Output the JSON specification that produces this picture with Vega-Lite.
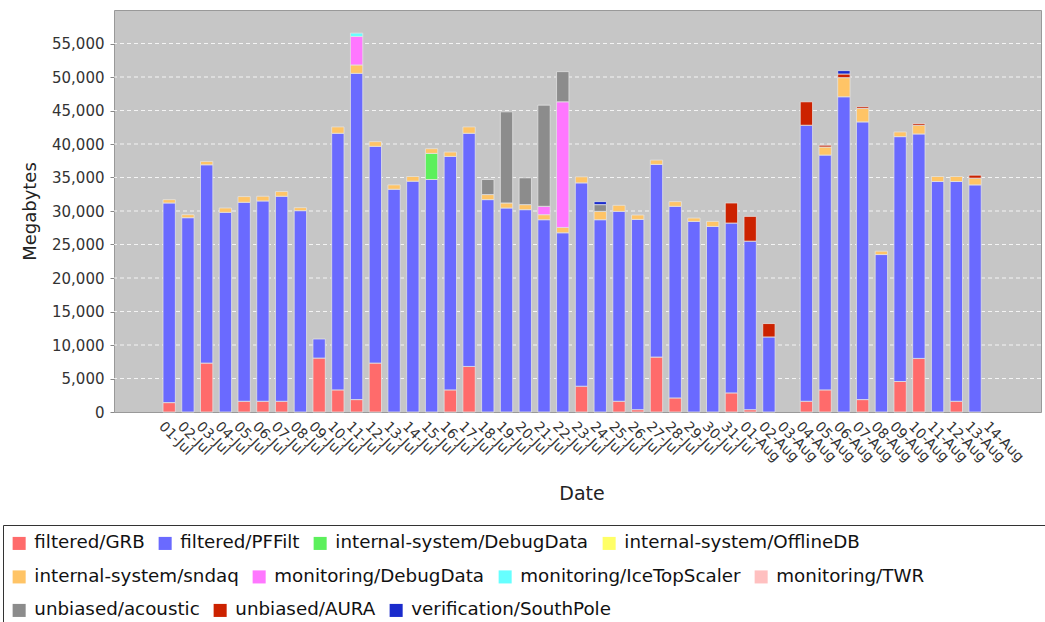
{
  "$schema": "https://vega.github.io/schema/vega-lite/v6.json",
  "width": 927,
  "height": 402,
  "autosize": {"type": "none"},
  "padding": {"left": 114, "top": 10, "right": 4, "bottom": 210},
  "background": "white",
  "view": {"fill": "#C6C6C6", "stroke": "#999999", "strokeWidth": 1},
  "config": {
    "font": "DejaVu Sans",
    "view": {"fill": "#C6C6C6", "stroke": "#999999", "strokeWidth": 1}
  },
  "datasets": {
    "gridlines": [
      {"mb": 5000}, {"mb": 10000}, {"mb": 15000}, {"mb": 20000}, {"mb": 25000}, {"mb": 30000},
      {"mb": 35000}, {"mb": 40000}, {"mb": 45000}, {"mb": 50000}, {"mb": 55000}
    ],
    "daily": [
      {"date": "01-Jul", "stream": "filtered/GRB", "mb": 1400},
      {"date": "01-Jul", "stream": "filtered/PFFilt", "mb": 29800},
      {"date": "01-Jul", "stream": "internal-system/sndaq", "mb": 500},
      {"date": "02-Jul", "stream": "filtered/PFFilt", "mb": 29000},
      {"date": "02-Jul", "stream": "internal-system/sndaq", "mb": 450},
      {"date": "03-Jul", "stream": "filtered/GRB", "mb": 7300},
      {"date": "03-Jul", "stream": "filtered/PFFilt", "mb": 29600},
      {"date": "03-Jul", "stream": "internal-system/sndaq", "mb": 500},
      {"date": "04-Jul", "stream": "filtered/PFFilt", "mb": 29800},
      {"date": "04-Jul", "stream": "internal-system/sndaq", "mb": 650},
      {"date": "05-Jul", "stream": "filtered/GRB", "mb": 1600},
      {"date": "05-Jul", "stream": "filtered/PFFilt", "mb": 29700},
      {"date": "05-Jul", "stream": "internal-system/sndaq", "mb": 850},
      {"date": "06-Jul", "stream": "filtered/GRB", "mb": 1600},
      {"date": "06-Jul", "stream": "filtered/PFFilt", "mb": 29900},
      {"date": "06-Jul", "stream": "internal-system/sndaq", "mb": 700},
      {"date": "07-Jul", "stream": "filtered/GRB", "mb": 1600},
      {"date": "07-Jul", "stream": "filtered/PFFilt", "mb": 30600},
      {"date": "07-Jul", "stream": "internal-system/sndaq", "mb": 700},
      {"date": "08-Jul", "stream": "filtered/PFFilt", "mb": 30050},
      {"date": "08-Jul", "stream": "internal-system/sndaq", "mb": 450},
      {"date": "09-Jul", "stream": "filtered/GRB", "mb": 8050},
      {"date": "09-Jul", "stream": "filtered/PFFilt", "mb": 2850},
      {"date": "10-Jul", "stream": "filtered/GRB", "mb": 3300},
      {"date": "10-Jul", "stream": "filtered/PFFilt", "mb": 38300},
      {"date": "10-Jul", "stream": "internal-system/sndaq", "mb": 950},
      {"date": "11-Jul", "stream": "filtered/GRB", "mb": 1850},
      {"date": "11-Jul", "stream": "filtered/PFFilt", "mb": 48700},
      {"date": "11-Jul", "stream": "internal-system/sndaq", "mb": 1250},
      {"date": "11-Jul", "stream": "monitoring/DebugData", "mb": 4250},
      {"date": "11-Jul", "stream": "monitoring/IceTopScaler", "mb": 500},
      {"date": "12-Jul", "stream": "filtered/GRB", "mb": 7300},
      {"date": "12-Jul", "stream": "filtered/PFFilt", "mb": 32350},
      {"date": "12-Jul", "stream": "internal-system/sndaq", "mb": 700},
      {"date": "13-Jul", "stream": "filtered/PFFilt", "mb": 33250},
      {"date": "13-Jul", "stream": "internal-system/sndaq", "mb": 650},
      {"date": "14-Jul", "stream": "filtered/PFFilt", "mb": 34450},
      {"date": "14-Jul", "stream": "internal-system/sndaq", "mb": 700},
      {"date": "15-Jul", "stream": "filtered/PFFilt", "mb": 34700},
      {"date": "15-Jul", "stream": "internal-system/DebugData", "mb": 3900},
      {"date": "15-Jul", "stream": "internal-system/sndaq", "mb": 700},
      {"date": "16-Jul", "stream": "filtered/GRB", "mb": 3300},
      {"date": "16-Jul", "stream": "filtered/PFFilt", "mb": 34850},
      {"date": "16-Jul", "stream": "internal-system/sndaq", "mb": 650},
      {"date": "17-Jul", "stream": "filtered/GRB", "mb": 6800},
      {"date": "17-Jul", "stream": "filtered/PFFilt", "mb": 34800},
      {"date": "17-Jul", "stream": "internal-system/sndaq", "mb": 950},
      {"date": "18-Jul", "stream": "filtered/PFFilt", "mb": 31700},
      {"date": "18-Jul", "stream": "internal-system/sndaq", "mb": 750},
      {"date": "18-Jul", "stream": "unbiased/acoustic", "mb": 2250},
      {"date": "19-Jul", "stream": "filtered/PFFilt", "mb": 30450},
      {"date": "19-Jul", "stream": "internal-system/sndaq", "mb": 750},
      {"date": "19-Jul", "stream": "unbiased/acoustic", "mb": 13600},
      {"date": "20-Jul", "stream": "filtered/PFFilt", "mb": 30200},
      {"date": "20-Jul", "stream": "internal-system/sndaq", "mb": 750},
      {"date": "20-Jul", "stream": "unbiased/acoustic", "mb": 4000},
      {"date": "21-Jul", "stream": "filtered/PFFilt", "mb": 28700},
      {"date": "21-Jul", "stream": "internal-system/sndaq", "mb": 750},
      {"date": "21-Jul", "stream": "monitoring/DebugData", "mb": 1250},
      {"date": "21-Jul", "stream": "unbiased/acoustic", "mb": 15100},
      {"date": "22-Jul", "stream": "filtered/PFFilt", "mb": 26750},
      {"date": "22-Jul", "stream": "internal-system/sndaq", "mb": 800},
      {"date": "22-Jul", "stream": "monitoring/DebugData", "mb": 18750},
      {"date": "22-Jul", "stream": "unbiased/acoustic", "mb": 4500},
      {"date": "23-Jul", "stream": "filtered/GRB", "mb": 3850},
      {"date": "23-Jul", "stream": "filtered/PFFilt", "mb": 30350},
      {"date": "23-Jul", "stream": "internal-system/sndaq", "mb": 900},
      {"date": "24-Jul", "stream": "filtered/PFFilt", "mb": 28700},
      {"date": "24-Jul", "stream": "internal-system/sndaq", "mb": 1250},
      {"date": "24-Jul", "stream": "unbiased/acoustic", "mb": 1000},
      {"date": "24-Jul", "stream": "verification/SouthPole", "mb": 450},
      {"date": "25-Jul", "stream": "filtered/GRB", "mb": 1600},
      {"date": "25-Jul", "stream": "filtered/PFFilt", "mb": 28350},
      {"date": "25-Jul", "stream": "internal-system/sndaq", "mb": 900},
      {"date": "26-Jul", "stream": "filtered/GRB", "mb": 350},
      {"date": "26-Jul", "stream": "filtered/PFFilt", "mb": 28400},
      {"date": "26-Jul", "stream": "internal-system/sndaq", "mb": 650},
      {"date": "27-Jul", "stream": "filtered/GRB", "mb": 8200},
      {"date": "27-Jul", "stream": "filtered/PFFilt", "mb": 28750},
      {"date": "27-Jul", "stream": "internal-system/sndaq", "mb": 650},
      {"date": "28-Jul", "stream": "filtered/GRB", "mb": 2100},
      {"date": "28-Jul", "stream": "filtered/PFFilt", "mb": 28600},
      {"date": "28-Jul", "stream": "internal-system/sndaq", "mb": 700},
      {"date": "29-Jul", "stream": "filtered/PFFilt", "mb": 28450},
      {"date": "29-Jul", "stream": "internal-system/sndaq", "mb": 500},
      {"date": "30-Jul", "stream": "filtered/PFFilt", "mb": 27700},
      {"date": "30-Jul", "stream": "internal-system/sndaq", "mb": 750},
      {"date": "31-Jul", "stream": "filtered/GRB", "mb": 2850},
      {"date": "31-Jul", "stream": "filtered/PFFilt", "mb": 25350},
      {"date": "31-Jul", "stream": "unbiased/AURA", "mb": 3000},
      {"date": "01-Aug", "stream": "filtered/GRB", "mb": 350},
      {"date": "01-Aug", "stream": "filtered/PFFilt", "mb": 25150},
      {"date": "01-Aug", "stream": "unbiased/AURA", "mb": 3700},
      {"date": "02-Aug", "stream": "filtered/PFFilt", "mb": 11200},
      {"date": "02-Aug", "stream": "unbiased/AURA", "mb": 2000},
      {"date": "04-Aug", "stream": "filtered/GRB", "mb": 1600},
      {"date": "04-Aug", "stream": "filtered/PFFilt", "mb": 41200},
      {"date": "04-Aug", "stream": "unbiased/AURA", "mb": 3500},
      {"date": "05-Aug", "stream": "filtered/GRB", "mb": 3300},
      {"date": "05-Aug", "stream": "filtered/PFFilt", "mb": 35050},
      {"date": "05-Aug", "stream": "internal-system/sndaq", "mb": 1200},
      {"date": "05-Aug", "stream": "unbiased/AURA", "mb": 270},
      {"date": "06-Aug", "stream": "filtered/PFFilt", "mb": 47050},
      {"date": "06-Aug", "stream": "internal-system/sndaq", "mb": 2850},
      {"date": "06-Aug", "stream": "unbiased/AURA", "mb": 550},
      {"date": "06-Aug", "stream": "verification/SouthPole", "mb": 500},
      {"date": "07-Aug", "stream": "filtered/GRB", "mb": 1850},
      {"date": "07-Aug", "stream": "filtered/PFFilt", "mb": 41450},
      {"date": "07-Aug", "stream": "internal-system/sndaq", "mb": 2000},
      {"date": "07-Aug", "stream": "unbiased/AURA", "mb": 250},
      {"date": "08-Aug", "stream": "filtered/PFFilt", "mb": 23500},
      {"date": "08-Aug", "stream": "internal-system/sndaq", "mb": 500},
      {"date": "09-Aug", "stream": "filtered/GRB", "mb": 4550},
      {"date": "09-Aug", "stream": "filtered/PFFilt", "mb": 36550},
      {"date": "09-Aug", "stream": "internal-system/sndaq", "mb": 700},
      {"date": "10-Aug", "stream": "filtered/GRB", "mb": 8000},
      {"date": "10-Aug", "stream": "filtered/PFFilt", "mb": 33500},
      {"date": "10-Aug", "stream": "internal-system/sndaq", "mb": 1300},
      {"date": "10-Aug", "stream": "unbiased/AURA", "mb": 250},
      {"date": "11-Aug", "stream": "filtered/PFFilt", "mb": 34400},
      {"date": "11-Aug", "stream": "internal-system/sndaq", "mb": 750},
      {"date": "12-Aug", "stream": "filtered/GRB", "mb": 1600},
      {"date": "12-Aug", "stream": "filtered/PFFilt", "mb": 32800},
      {"date": "12-Aug", "stream": "internal-system/sndaq", "mb": 750},
      {"date": "13-Aug", "stream": "filtered/PFFilt", "mb": 33900},
      {"date": "13-Aug", "stream": "internal-system/sndaq", "mb": 1000},
      {"date": "13-Aug", "stream": "unbiased/AURA", "mb": 450}
    ]
  },
  "data": {"name": "daily"},
  "layer": [
    {
      "data": {"name": "gridlines"},
      "mark": {"type": "rule", "color": "#FFFFFF", "strokeDash": [4, 3], "strokeWidth": 1, "opacity": 0.8},
      "encoding": {
        "y": {
          "field": "mb",
          "type": "quantitative",
          "title": "Megabytes",
          "stack": null,
          "scale": {"domain": [0, 60000], "nice": false},
          "axis": {
            "values": [0, 5000, 10000, 15000, 20000, 25000, 30000, 35000, 40000, 45000, 50000, 55000],
            "format": ",d",
            "labelFontSize": 15,
            "labelColor": "#333333",
            "labelPadding": 6,
            "tickSize": 4,
            "tickColor": "#888888",
            "domain": false,
            "grid": false,
            "titleFontSize": 18,
            "titleFontWeight": "normal",
            "titleColor": "#222222",
            "titlePadding": 12
          }
        }
      }
    },
    {
      "mark": {"type": "bar", "stroke": "#E2E2E2", "strokeWidth": 0.8},
      "encoding": {
        "x": {
          "field": "date",
          "type": "nominal",
          "title": "Date",
          "scale": {
            "domain": ["01-Jul","02-Jul","03-Jul","04-Jul","05-Jul","06-Jul","07-Jul","08-Jul","09-Jul","10-Jul","11-Jul","12-Jul","13-Jul","14-Jul","15-Jul","16-Jul","17-Jul","18-Jul","19-Jul","20-Jul","21-Jul","22-Jul","23-Jul","24-Jul","25-Jul","26-Jul","27-Jul","28-Jul","29-Jul","30-Jul","31-Jul","01-Aug","02-Aug","03-Aug","04-Aug","05-Aug","06-Aug","07-Aug","08-Aug","09-Aug","10-Aug","11-Aug","12-Aug","13-Aug","14-Aug"],
            "range": [49, 886],
            "paddingInner": 0.34,
            "paddingOuter": 0
          },
          "axis": {
            "labelAngle": 45,
            "labelAlign": "left",
            "labelBaseline": "middle",
            "labelFontSize": 14,
            "labelColor": "#333333",
            "labelPadding": 12,
            "labelOffset": -8,
            "ticks": false,
            "domain": false,
            "grid": false,
            "titleFontSize": 19,
            "titleFontWeight": "normal",
            "titleColor": "#222222",
            "titlePadding": 20
          }
        },
        "y": {
          "field": "mb",
          "type": "quantitative",
          "title": "Megabytes",
          "stack": "zero",
          "scale": {"domain": [0, 60000], "nice": false},
          "axis": {
            "values": [0, 5000, 10000, 15000, 20000, 25000, 30000, 35000, 40000, 45000, 50000, 55000],
            "format": ",d",
            "labelFontSize": 15,
            "labelColor": "#333333",
            "labelPadding": 6,
            "tickSize": 4,
            "tickColor": "#888888",
            "domain": false,
            "grid": false,
            "titleFontSize": 18,
            "titleFontWeight": "normal",
            "titleColor": "#222222",
            "titlePadding": 12
          }
        },
        "color": {
          "field": "stream",
          "type": "nominal",
          "scale": {
            "domain": ["filtered/GRB","filtered/PFFilt","internal-system/DebugData","internal-system/OfflineDB","internal-system/sndaq","monitoring/DebugData","monitoring/IceTopScaler","monitoring/TWR","unbiased/acoustic","unbiased/AURA","verification/SouthPole"],
            "range": ["#FF6B6B","#6A6AFF","#5CF05C","#FFFF66","#FFC466","#FF77FF","#66FFFF","#FFC0C0","#8C8C8C","#CC2200","#1A2BCC"]
          },
          "legend": null
        },
        "order": {"field": "stream", "sort": "ascending"}
      }
    },
    {
      "mark": {"type": "point", "opacity": 0, "filled": true},
      "encoding": {
        "shape": {
          "field": "stream",
          "type": "nominal",
          "scale": {"domain": ["filtered/GRB"], "range": ["square"]},
          "legend": {
            "orient": "none",
            "legendX": -111,
            "legendY": 515,
            "title": null,
            "labelExpr": "''",
            "symbolOpacity": 0,
            "symbolSize": 4,
            "padding": 520,
            "strokeColor": "#333333",
            "fillColor": null
          }
        }
      }
    },
    {
      "transform": [{"filter": {"field": "stream", "oneOf": ["filtered/GRB","filtered/PFFilt","internal-system/DebugData","internal-system/OfflineDB"]}}],
      "mark": {"type": "point", "opacity": 0, "filled": true},
      "encoding": {
        "color": {
          "field": "stream",
          "type": "nominal",
          "scale": {
            "domain": ["filtered/GRB","filtered/PFFilt","internal-system/DebugData","internal-system/OfflineDB"],
            "range": ["#FF6B6B","#6A6AFF","#5CF05C","#FFFF66"]
          },
          "legend": {
            "orient": "none", "legendX": -104, "legendY": 524, "title": null,
            "direction": "horizontal", "symbolType": "square", "symbolSize": 170,
            "symbolOpacity": 1, "symbolStrokeWidth": 0, "labelFontSize": 18.3,
            "labelColor": "#111111", "labelOffset": 6, "labelLimit": 500,
            "columnPadding": 11, "padding": 0
          }
        }
      }
    },
    {
      "transform": [{"filter": {"field": "stream", "oneOf": ["internal-system/sndaq","monitoring/DebugData","monitoring/IceTopScaler","monitoring/TWR"]}}],
      "mark": {"type": "point", "opacity": 0, "filled": true},
      "encoding": {
        "color": {
          "field": "stream",
          "type": "nominal",
          "scale": {
            "domain": ["internal-system/sndaq","monitoring/DebugData","monitoring/IceTopScaler","monitoring/TWR"],
            "range": ["#FFC466","#FF77FF","#66FFFF","#FFC0C0"]
          },
          "legend": {
            "orient": "none", "legendX": -104, "legendY": 557.5, "title": null,
            "direction": "horizontal", "symbolType": "square", "symbolSize": 170,
            "symbolOpacity": 1, "symbolStrokeWidth": 0, "labelFontSize": 18.3,
            "labelColor": "#111111", "labelOffset": 6, "labelLimit": 500,
            "columnPadding": 11, "padding": 0
          }
        }
      }
    },
    {
      "transform": [{"filter": {"field": "stream", "oneOf": ["unbiased/acoustic","unbiased/AURA","verification/SouthPole"]}}],
      "mark": {"type": "point", "opacity": 0, "filled": true},
      "encoding": {
        "color": {
          "field": "stream",
          "type": "nominal",
          "scale": {
            "domain": ["unbiased/acoustic","unbiased/AURA","verification/SouthPole"],
            "range": ["#8C8C8C","#CC2200","#1A2BCC"]
          },
          "legend": {
            "orient": "none", "legendX": -104, "legendY": 591, "title": null,
            "direction": "horizontal", "symbolType": "square", "symbolSize": 170,
            "symbolOpacity": 1, "symbolStrokeWidth": 0, "labelFontSize": 18.3,
            "labelColor": "#111111", "labelOffset": 6, "labelLimit": 500,
            "columnPadding": 11, "padding": 0
          }
        }
      }
    }
  ],
  "resolve": {"scale": {"color": "independent", "shape": "independent"}}
}
